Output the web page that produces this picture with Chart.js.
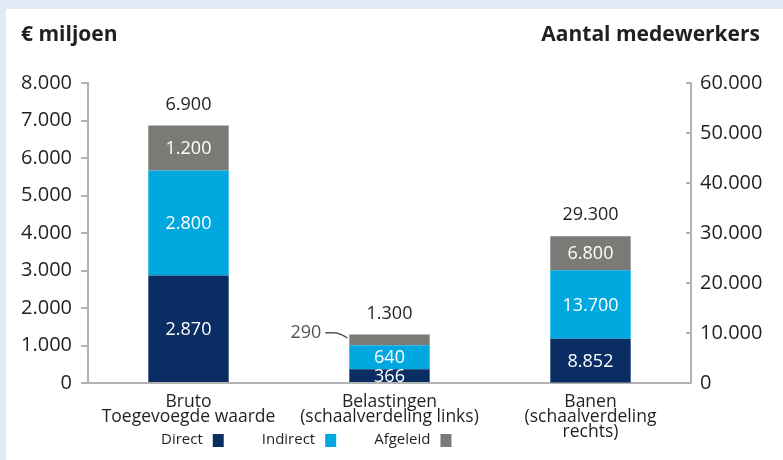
<!DOCTYPE html>
<html lang="nl">
<head>
<meta charset="UTF-8">
<title>Economische bijdrage</title>
<script src="https://cdn.jsdelivr.net/npm/chart.js"></script>
<style>
    body { margin: 0; background: #e3eaf5; }
    canvas { display: block; }
</style>
</head>
<body>
<canvas id="chart" width="783" height="460"></canvas>
<script>
// data
const categories = [
    ['Bruto', 'Toegevoegde waarde'],
    ['Belastingen', '(schaalverdeling links)'],
    ['Banen', '(schaalverdeling', 'rechts)']
];
const seriesNames = ['Direct', 'Indirect', 'Afgeleid'];
const direct = [2870, 366, 8852];
const indirect = [2800, 640, 13700];
const afgeleid = [1200, 290, 6800];
const totals = [6900, 1300, 29300];
// the last bar
const axisOfCategory = ['y', 'y', 'y1'];
const leftTicks = [0, 1000, 2000, 3000, 4000, 5000, 6000, 7000, 8000];
const rightTicks = [0, 10000, 20000, 30000, 40000, 50000, 60000];
const leftTitle = '€ miljoen';
const rightTitle = 'Aantal medewerkers';

const colors = ['#0a2d63', '#00a8df', '#7a7a77'];
const axisGray = '#b3b3b3';
const textColor = '#231f20';
const FONT = '"Open Sans", "DejaVu Sans", sans-serif';

function fmt(v) {
    return String(v).replace(/\B(?=(\d{3})+(?!\d))/g, '.');
}

const series = [direct, indirect, afgeleid];
const datasets = [];
['y', 'y1'].forEach(axis => {
    series.forEach((vals, s) => {
        datasets.push({
            label: seriesNames[s],
            yAxisID: axis,
            stack: 'one',
            seriesIndex: s,
            data: vals.map((v, i) => axisOfCategory[i] === axis ? v : null),
            backgroundColor: colors[s],
            borderWidth: 0
        });
    });
});

const backgroundPlugin = {
    id: 'panel',
    beforeDraw(chart) {
        const ctx = chart.ctx;
        ctx.save();
        ctx.fillStyle = '#e3eaf5';
        ctx.fillRect(0, 0, chart.width, chart.height);
        ctx.fillStyle = '#ffffff';
        ctx.fillRect(6, 9, chart.width - 6, chart.height - 9);
        ctx.restore();
    }
};

const labelsPlugin = {
    id: 'labels',
    afterDatasetsDraw(chart) {
        const ctx = chart.ctx;
        ctx.save();
        ctx.font = '18px ' + FONT;
        ctx.textBaseline = 'middle';
        chart.data.datasets.forEach((ds, di) => {
            const meta = chart.getDatasetMeta(di);
            meta.data.forEach((bar, i) => {
                const v = ds.data[i];
                if (v == null) return;
                const mid = (bar.y + bar.base) / 2;
                const h = Math.abs(bar.base - bar.y);
                if (h < 12) {
                    // thin segment: label on the left with a small leader
                    const left = bar.x - bar.width / 2;
                    ctx.fillStyle = '#555555';
                    ctx.textAlign = 'right';
                    ctx.fillText(fmt(v), left - 28, mid - 7);
                    ctx.strokeStyle = '#555555';
                    ctx.lineWidth = 1.5;
                    ctx.beginPath();
                    ctx.moveTo(left - 24, mid - 7);
                    ctx.lineTo(left - 16, mid - 7);
                    ctx.quadraticCurveTo(left - 10, mid - 7, left - 2, mid - 2);
                    ctx.stroke();
                } else {
                    ctx.fillStyle = '#ffffff';
                    ctx.textAlign = 'center';
                    ctx.fillText(fmt(v), bar.x, mid + 1);
                }
                if (ds.seriesIndex === seriesNames.length - 1) {
                    ctx.fillStyle = textColor;
                    ctx.textAlign = 'center';
                    ctx.fillText(fmt(totals[i]), bar.x, bar.y - 21);
                }
            });
        });
        ctx.restore();
    },
    afterDraw(chart) {
        const ctx = chart.ctx;
        ctx.save();
        // axis headings
        ctx.fillStyle = textColor;
        ctx.font = 'bold 21px ' + FONT;
        ctx.textBaseline = 'alphabetic';
        ctx.textAlign = 'left';
        ctx.fillText(leftTitle, 21, 41);
        ctx.textAlign = 'right';
        ctx.fillText(rightTitle, 760, 41);

        // inward tick marks on the right axis
        const y1 = chart.scales.y1;
        ctx.strokeStyle = axisGray;
        ctx.lineWidth = 2;
        rightTicks.forEach(v => {
            const y = Math.round(y1.getPixelForValue(v));
            ctx.beginPath();
            ctx.moveTo(y1.left - 5, y);
            ctx.lineTo(y1.left, y);
            ctx.stroke();
        });

        // legend: text followed by a colour box
        ctx.font = '15px ' + FONT;
        ctx.textAlign = 'left';
        ctx.textBaseline = 'middle';
        let x = 161;
        const ly = 440;
        seriesNames.forEach((name, s) => {
            ctx.fillStyle = textColor;
            ctx.fillText(name, x, ly);
            x += ctx.measureText(name).width + 10;
            ctx.fillStyle = colors[s];
            ctx.fillRect(x, ly - 6, 11, 13);
            x += 11 + 38;
        });
        ctx.restore();
    }
};

new Chart(document.getElementById('chart'), {
    type: 'bar',
    data: { labels: categories, datasets: datasets },
    options: {
        responsive: false,
        animation: false,
        devicePixelRatio: 1,
        barPercentage: 0.4,
        categoryPercentage: 1,
        layout: { padding: { top: 83, left: 0, right: 0, bottom: 0 } },
        plugins: {
            legend: { display: false },
            tooltip: { enabled: false }
        },
        scales: {
            x: {
                stacked: true,
                grid: { display: false },
                border: { display: true, color: axisGray, width: 2 },
                ticks: {
                    color: textColor,
                    font: { family: FONT, size: 17.5, lineHeight: '15px' },
                    padding: 4,
                    maxRotation: 0,
                    autoSkip: false
                },
                afterFit(scale) { scale.height = 77; }
            },
            y: {
                stacked: true,
                position: 'left',
                min: leftTicks[0],
                max: leftTicks[leftTicks.length - 1],
                afterBuildTicks(scale) { scale.ticks = leftTicks.map(v => ({ value: v })); },
                grid: { drawOnChartArea: false, drawTicks: true, tickLength: 7, color: axisGray, lineWidth: 2 },
                border: { display: true, color: axisGray, width: 2 },
                ticks: {
                    color: textColor,
                    font: { family: FONT, size: 20 },
                    padding: 9,
                    callback: v => fmt(v)
                },
                afterFit(scale) { scale.width = 88; }
            },
            y1: {
                stacked: true,
                position: 'right',
                min: rightTicks[0],
                max: rightTicks[rightTicks.length - 1],
                afterBuildTicks(scale) { scale.ticks = rightTicks.map(v => ({ value: v })); },
                grid: { drawOnChartArea: false, drawTicks: false },
                border: { display: true, color: axisGray, width: 2 },
                ticks: {
                    color: textColor,
                    font: { family: FONT, size: 20 },
                    padding: 9,
                    callback: v => fmt(v)
                },
                afterFit(scale) { scale.width = 92; }
            }
        }
    },
    plugins: [backgroundPlugin, labelsPlugin]
});
</script>
</body>
</html>
